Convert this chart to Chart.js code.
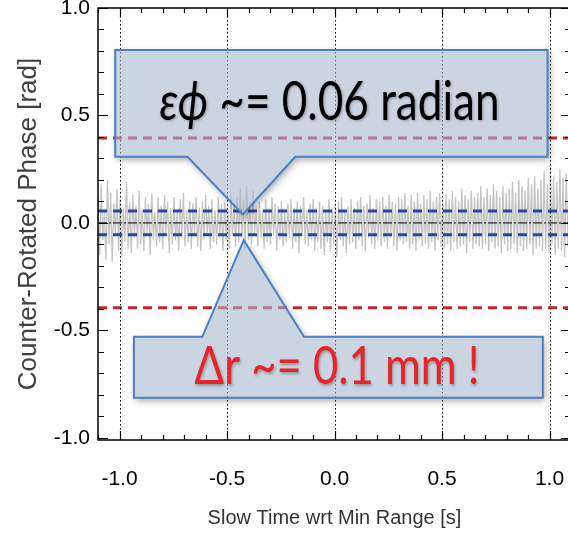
<!DOCTYPE html>
<html><head><meta charset="utf-8">
<script src="https://cdn.jsdelivr.net/npm/chart.js@4/dist/chart.umd.min.js"></script>
<style>
html,body{margin:0;padding:0;background:#fff;overflow:hidden}
#wrap{width:568px;height:534px;overflow:hidden;position:relative}
canvas{display:block}
</style>
</head><body>
<div id="wrap"><canvas id="c" width="580" height="534" style="width:580px;height:534px"></canvas></div>
<script>
// ---------- data ----------
const xTickValues = [-1.0, -0.5, 0.0, 0.5, 1.0];
const yTickValues = [-1.0, -0.5, 0.0, 0.5, 1.0];
const xRange = [-1.1, 1.1];
const yRange = [-1.01, 1.0];
const traceStart = -1.1;
const traceEnd = 1.1;
const phaseTrace = [
 0.12,-0.15,0.18,-0.08,0.05,-0.17,0.2,-0.1,0.14,-0.18,0.09,-0.06,0.16,-0.13,0.11,-0.16,0.07,-0.09,0.19,-0.12,
 0.1,-0.14,0.13,-0.07,0.08,-0.12,0.15,-0.1,0.06,-0.13,0.12,-0.05,0.09,-0.15,0.14,-0.08,0.05,-0.11,0.12,-0.09,
 0.08,-0.12,0.13,-0.06,0.1,-0.14,0.07,-0.1,0.12,-0.08,0.05,-0.13,0.11,-0.07,0.14,-0.11,0.06,-0.09,0.1,-0.12,
 0.09,-0.05,0.12,-0.11,0.07,-0.13,0.1,-0.08,0.13,-0.06,0.08,-0.12,0.11,-0.09,0.06,-0.1,0.12,-0.07,0.09,-0.13,
 0.1,-0.08,0.07,-0.12,0.13,-0.06,0.09,-0.11,0.12,-0.09,0.16,-0.07,0.11,-0.12,0.17,-0.08,0.1,-0.1,0.15,-0.06,
 0.08,-0.11,0.1,-0.07,0.06,-0.12,0.11,-0.09,0.07,-0.1,0.12,-0.06,0.09,-0.13,0.08,-0.08,0.1,-0.11,0.06,-0.09,
 0.09,-0.07,0.11,-0.12,0.07,-0.09,0.1,-0.14,0.08,-0.06,0.12,-0.1,0.06,-0.11,0.09,-0.08,0.11,-0.13,0.07,-0.09,
 0.1,-0.12,0.08,-0.15,0.06,-0.09,0.11,-0.13,0.07,-0.1,0.09,-0.16,0.1,-0.08,0.12,-0.11,0.06,-0.14,0.08,-0.1,
 0.11,-0.09,0.07,-0.12,0.1,-0.08,0.12,-0.11,0.08,-0.13,0.09,-0.07,0.13,-0.1,0.07,-0.12,0.11,-0.08,0.1,-0.11,
 0.12,-0.09,0.08,-0.12,0.13,-0.07,0.1,-0.11,0.09,-0.13,0.12,-0.08,0.11,-0.1,0.14,-0.09,0.08,-0.12,0.13,-0.1,
 0.1,-0.13,0.14,-0.08,0.09,-0.11,0.13,-0.1,0.11,-0.12,0.15,-0.09,0.1,-0.13,0.12,-0.08,0.14,-0.11,0.09,-0.12,
 0.13,-0.1,0.11,-0.13,0.15,-0.09,0.12,-0.12,0.1,-0.11,0.16,-0.1,0.13,-0.14,0.11,-0.09,0.15,-0.12,0.12,-0.1,
 0.14,-0.11,0.17,-0.12,0.12,-0.1,0.16,-0.13,0.13,-0.09,0.18,-0.12,0.15,-0.11,0.12,-0.14,0.17,-0.1,0.14,-0.13,
 0.16,-0.12,0.19,-0.1,0.14,-0.14,0.2,-0.11,0.17,-0.13,0.15,-0.12,0.21,-0.1,0.18,-0.15,0.22,-0.12,0.16,-0.11,
 0.2,-0.13,0.24,-0.12,0.18,-0.14,0.26,-0.1,0.22,-0.15,0.19,-0.12,0.25,-0.13,0.21,-0.16,0.23,-0.11,0.2,-0.14
];
const blueLevels = [0.055, -0.055];
const redLevels = [0.395, -0.395];
const zeroLevel = 0.0;
const xTitle = 'Slow Time wrt Min Range [s]';
const yTitle = 'Counter-Rotated Phase [rad]';
const topCalloutParts = [{t:'\u03B5\u03D5', italic:true}, {t:' ~= 0.06 radian', italic:false}];
const bottomCalloutParts = [{t:'\u0394r ~= 0.1 mm !', italic:false}];

// ---------- annotation geometry (data coordinates) ----------
const callouts = [
  {x0:-1.02, x1:0.991, yTop:0.805, yBot:0.308, side:'bottom', pa:-0.684, pb:-0.183, tipX:-0.426, tipY:0.040,
   parts: topCalloutParts, color:'#000000', textX:-0.023, textY:0.479, textW:340},
  {x0:-0.933, x1:0.969, yTop:-0.530, yBot:-0.813, side:'top', pa:-0.615, pb:-0.142, tipX:-0.422, tipY:-0.080,
   parts: bottomCalloutParts, color:'#e8242b', textX:0.012, textY:-0.750, textW:285}
];

const tracePoints = phaseTrace.map((v, i) => ({x: traceStart + i * (traceEnd - traceStart) / (phaseTrace.length - 1), y: v}));
const hLine = lvl => [{x: xRange[0], y: lvl}, {x: xRange[1], y: lvl}];

const datasets = [];
redLevels.forEach(l => datasets.push({data: hLine(l), borderColor: '#c3262c', borderWidth: 3, borderDash: [9, 6], pointRadius: 0, order: 1}));
blueLevels.forEach(l => datasets.push({data: hLine(l), borderColor: '#2448a0', borderWidth: 3, borderDash: [9, 6], pointRadius: 0, order: 2}));
datasets.push({data: hLine(zeroLevel), borderColor: '#000', borderWidth: 1, borderDash: [9, 2, 2, 2], pointRadius: 0, order: 3});
datasets.push({data: tracePoints, borderColor: 'rgb(196,196,196)', borderWidth: 1.3, pointRadius: 0, tension: 0, order: 10});

const FONT = '"Liberation Sans", Arial, Helvetica, sans-serif';

const framePlugin = {
  id: 'frame',
  afterDatasetsDraw(chart) {
    const {ctx, chartArea: a, scales: {x, y}} = chart;
    ctx.save();
    ctx.strokeStyle = '#000';
    ctx.lineWidth = 1;
    ctx.setLineDash([1.5, 2.5]);
    xTickValues.forEach(v => {
      const px = Math.round(x.getPixelForValue(v)) + 0.5;
      ctx.beginPath(); ctx.moveTo(px, a.top); ctx.lineTo(px, a.bottom); ctx.stroke();
    });
    ctx.setLineDash([]);
    ctx.lineWidth = 1.5;
    ctx.strokeRect(a.left, a.top, a.right - a.left, a.bottom - a.top);
    ctx.lineWidth = 1.2;
    for (let i = -11; i <= 11; i++) {
      const v = i / 10;
      const major = xTickValues.some(t => Math.abs(t - v) < 1e-9);
      const len = major ? 9 : 5;
      const px = Math.round(x.getPixelForValue(v)) + 0.5;
      ctx.beginPath();
      ctx.moveTo(px, a.bottom); ctx.lineTo(px, a.bottom - len);
      ctx.moveTo(px, a.top); ctx.lineTo(px, a.top + len);
      ctx.stroke();
    }
    for (let i = -10; i <= 10; i++) {
      const v = i / 10;
      const major = yTickValues.some(t => Math.abs(t - v) < 1e-9);
      const len = major ? 10 : 6;
      const py = Math.round(y.getPixelForValue(v)) + 0.5;
      ctx.beginPath();
      ctx.moveTo(a.left, py); ctx.lineTo(a.left + len, py);
      ctx.moveTo(a.right, py); ctx.lineTo(a.right - len, py);
      ctx.stroke();
    }
    ctx.restore();
  },
  afterDraw(chart) {
    const {ctx, scales: {x, y}} = chart;
    callouts.forEach(c => {
      const X0 = x.getPixelForValue(c.x0), X1 = x.getPixelForValue(c.x1);
      const Y0 = y.getPixelForValue(c.yTop), Y1 = y.getPixelForValue(c.yBot);
      const PA = x.getPixelForValue(c.pa), PB = x.getPixelForValue(c.pb);
      const TX = x.getPixelForValue(c.tipX), TY = y.getPixelForValue(c.tipY);
      const shape = () => {
        ctx.beginPath();
        if (c.side === 'bottom') {
          ctx.moveTo(X0, Y0); ctx.lineTo(X1, Y0); ctx.lineTo(X1, Y1);
          ctx.lineTo(PB, Y1); ctx.lineTo(TX, TY); ctx.lineTo(PA, Y1); ctx.lineTo(X0, Y1);
        } else {
          ctx.moveTo(X0, Y0); ctx.lineTo(PA, Y0); ctx.lineTo(TX, TY); ctx.lineTo(PB, Y0);
          ctx.lineTo(X1, Y0); ctx.lineTo(X1, Y1); ctx.lineTo(X0, Y1);
        }
        ctx.closePath();
      };
      ctx.save();
      ctx.beginPath();
      ctx.rect(0, 0, chart.width, chart.height);
      if (c.side === 'bottom') {
        ctx.moveTo(X0, Y0); ctx.lineTo(X0, Y1); ctx.lineTo(PA, Y1); ctx.lineTo(TX, TY); ctx.lineTo(PB, Y1); ctx.lineTo(X1, Y1); ctx.lineTo(X1, Y0);
      } else {
        ctx.moveTo(X0, Y0); ctx.lineTo(X0, Y1); ctx.lineTo(X1, Y1); ctx.lineTo(X1, Y0); ctx.lineTo(PB, Y0); ctx.lineTo(TX, TY); ctx.lineTo(PA, Y0);
      }
      ctx.closePath();
      ctx.clip('evenodd');
      shape();
      ctx.shadowColor = 'rgba(0,0,0,0.35)';
      ctx.shadowBlur = 7; ctx.shadowOffsetX = 2; ctx.shadowOffsetY = 3;
      ctx.fillStyle = '#fff';
      ctx.fill();
      ctx.restore();
      ctx.save();
      shape();
      ctx.fillStyle = 'rgba(166,183,204,0.58)';
      ctx.fill();
      ctx.lineWidth = 2;
      ctx.strokeStyle = '#4a80c4';
      ctx.lineJoin = 'miter';
      ctx.stroke();
      ctx.restore();
      ctx.save();
      const base = 40;
      const fam = 'Lato, "Noto Sans", "DejaVu Sans", sans-serif';
      const fontOf = (p, s) => (p.italic ? 'italic ' : '') + s + 'px ' + fam;
      let w = 0;
      c.parts.forEach(p => { ctx.font = fontOf(p, base); w += ctx.measureText(p.t).width; });
      const size = base * c.textW / w;
      let tw = 0;
      c.parts.forEach(p => { ctx.font = fontOf(p, size); tw += ctx.measureText(p.t).width; });
      const cx = x.getPixelForValue(c.textX), by = y.getPixelForValue(c.textY);
      ctx.translate(cx, by);
      ctx.scale(1, 1.22);
      ctx.textBaseline = 'alphabetic';
      ctx.textAlign = 'left';
      ctx.fillStyle = c.color;
      ctx.shadowColor = 'rgba(0,0,0,0.3)';
      ctx.shadowBlur = 3; ctx.shadowOffsetX = 1; ctx.shadowOffsetY = 1.5;
      let px = -tw / 2;
      c.parts.forEach(p => { ctx.font = fontOf(p, size); ctx.fillText(p.t, px, 0); px += ctx.measureText(p.t).width; });
      ctx.restore();
    });
  }
};

const noPad = s => { s.paddingLeft = 0; s.paddingRight = 0; s.paddingTop = 0; s.paddingBottom = 0; };

new Chart(document.getElementById('c'), {
  type: 'line',
  data: {datasets},
  options: {
    responsive: false,
    animation: false,
    devicePixelRatio: 1,
    layout: {padding: {left: 0, top: 8, right: 9, bottom: 0}},
    plugins: {legend: {display: false}, tooltip: {enabled: false}},
    scales: {
      x: {
        type: 'linear', min: xRange[0], max: xRange[1],
        afterBuildTicks: s => { s.ticks = xTickValues.map(v => ({value: v})); },
        afterFit: s => { s.height = 94; noPad(s); },
        grid: {display: false, drawTicks: false},
        border: {display: false},
        ticks: {color: '#000', padding: 27, maxRotation: 0, autoSkip: false,
                font: {family: FONT, size: 21}, callback: v => Number(v).toFixed(1)},
        title: {display: true, text: xTitle, color: '#333', font: {family: FONT, size: 20}, padding: {top: 0, bottom: 4}}
      },
      y: {
        type: 'linear', min: yRange[0], max: yRange[1],
        afterBuildTicks: s => { s.ticks = yTickValues.map(v => ({value: v})); },
        afterFit: s => { s.width = 98; noPad(s); },
        grid: {display: false, drawTicks: false},
        border: {display: false},
        ticks: {color: '#000', padding: 8, autoSkip: false,
                font: {family: FONT, size: 21}, callback: v => Number(v).toFixed(1)},
        title: {display: true, text: yTitle, color: '#404040', font: {family: FONT, size: 26}, padding: {top: 13, bottom: 0}}
      }
    }
  },
  plugins: [framePlugin]
});
</script>
</body></html>
